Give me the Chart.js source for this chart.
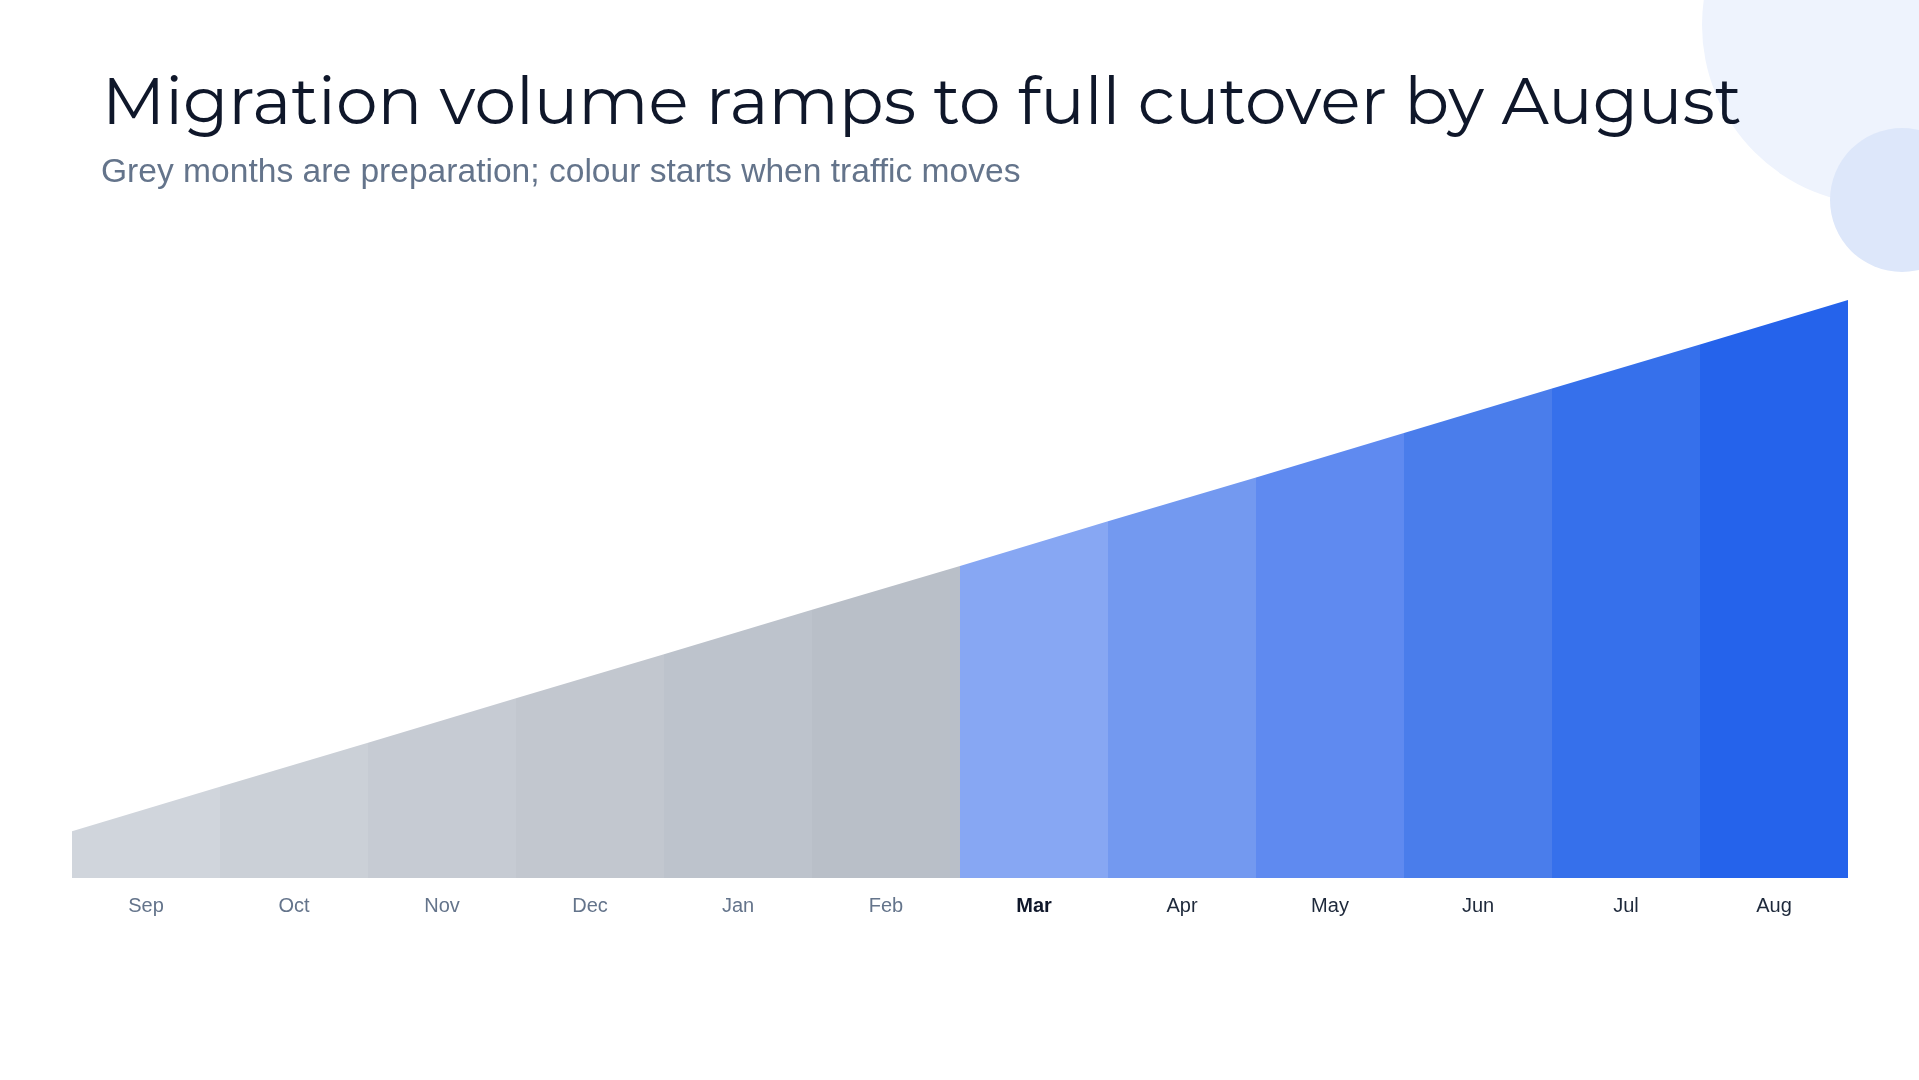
<!DOCTYPE html>
<html lang="en">

<head>
    <meta charset="UTF-8">
    <script src="https://cdn.jsdelivr.net/npm/chart.js@4"></script>
    <title>Migration volume</title>
    <style>
        html, body { margin: 0; padding: 0; background: #ffffff; }
        #pagina { position: relative; width: 1919px; height: 1080px; overflow: hidden; }
        .bola { position: absolute; border-radius: 50%; }
        #bola_grande { left: 1702px; top: -155px; width: 360px; height: 360px; background: #eef3fd; }
        #bola_pequena { left: 1830px; top: 128px; width: 144px; height: 144px; background: #dde7fa; }
        #grafico { position: absolute; left: 0; top: 0; }
        #titulo { position: absolute; left: 102px; top: 68px; font-family: 'Montserrat', 'Inter', sans-serif; font-size: 66.2px; color: #0f172a; white-space: nowrap; line-height: 1; }
        #subtitulo { position: absolute; left: 101px; top: 154px; font-family: 'Liberation Sans', Arial, sans-serif; font-size: 33.6px; color: #64748b; white-space: nowrap; line-height: 1; }
    </style>
</head>

<body>
    <div id="pagina">
        <div id="bola_grande" class="bola"></div>
        <div id="bola_pequena" class="bola"></div>
        <canvas id="grafico" width="1919" height="1080"></canvas>
        <div id="titulo">Migration volume ramps to full cutover by August</div>
        <div id="subtitulo">Grey months are preparation; colour starts when traffic moves</div>
    </div>
</body>

</html>

<script>
    // meses do eixo
    var meses = ['Sep', 'Oct', 'Nov', 'Dec', 'Jan', 'Feb', 'Mar', 'Apr', 'May', 'Jun', 'Jul', 'Aug']
    // volume (%) nas fronteiras entre meses: inicio de Sep ... fim de Aug
    var volume = [8.1, 15.8, 23.4, 31.1, 38.7, 46.4, 54.0, 61.7, 69.3, 77.0, 84.7, 92.3, 100]
    // cor de cada mes
    var cores = ['#d0d5dc', '#cbd0d7', '#c6cbd3', '#c2c7cf', '#bdc3cc', '#b9bfc8',
        '#87a7f3', '#7399f0', '#5f8af0', '#4a7deb', '#3670eb', '#2563eb']
    var mes_inicio = 6

    var pontos = []
    for (var i = 0; i < volume.length; i++) {
        pontos.push({ x: i, y: volume[i] })
    }

    var ctx = grafico.getContext('2d');
    var myChart = new Chart(ctx, {
        type: 'line',
        data: {
            datasets: [{
                data: pontos,
                xAxisID: 'x',
                fill: 'origin',
                borderWidth: 0,
                pointRadius: 0,
                tension: 0,
                backgroundColor: cores[0],
                segment: {
                    backgroundColor: function (c) { return cores[c.p0DataIndex] }
                }
            }]
        },
        options: {
            responsive: false,
            animation: false,
            layout: { padding: { left: 72, right: 71, top: 300, bottom: 146 } },
            plugins: { legend: { display: false }, tooltip: { enabled: false } },
            scales: {
                x: { type: 'linear', min: 0, max: meses.length, display: false },
                meses: {
                    type: 'category',
                    labels: meses,
                    position: 'bottom',
                    offset: true,
                    grid: { display: false, drawTicks: false },
                    border: { display: false },
                    ticks: {
                        padding: 16,
                        autoSkip: false,
                        maxRotation: 0,
                        color: function (c) { return c.index < mes_inicio ? '#64748b' : (c.index == mes_inicio ? '#0f172a' : '#1e293b') },
                        font: function (c) {
                            return { family: "'Liberation Sans', Arial, sans-serif", size: 20, weight: c.index == mes_inicio ? 'bold' : 'normal' }
                        }
                    }
                },
                y: { min: 0, max: 100, display: false }
            }
        }
    });
</script>
